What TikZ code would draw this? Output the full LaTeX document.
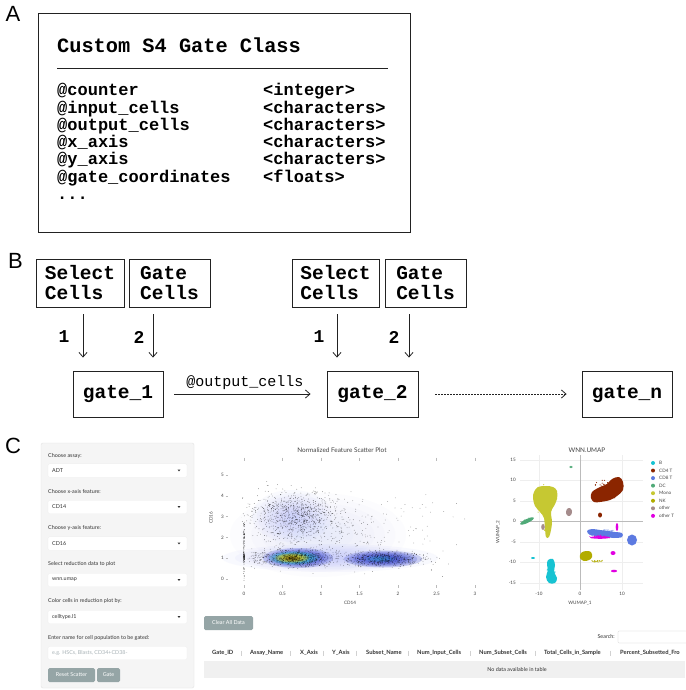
\documentclass[tikz,border=0pt]{standalone}
\usepackage{fontspec}
\usetikzlibrary{arrows.meta}
\newfontfamily\monof{Liberation Mono}
\newfontfamily\latof{Lato}
\newfontfamily\labf{Liberation Sans}
\newcommand\fntLab{\labf\fontsize{22}{24}\selectfont}
\newcommand\fntTitle{\monof\bfseries\fontsize{20.3}{24}\selectfont}
\newcommand\fntRow{\monof\bfseries\fontsize{17}{20}\selectfont}
\newcommand\fntBox{\monof\bfseries\fontsize{19.5}{20}\selectfont}
\newcommand\fntEdge{\monof\fontsize{15}{18}\selectfont}
\newcommand\fntUi{\latof\fontsize{5.4}{6.5}\selectfont}
\newcommand\fntHead{\latof\bfseries\fontsize{5.8}{7}\selectfont}
\newcommand\fntTick{\latof\fontsize{4.6}{5.5}\selectfont}
\newcommand\fntPlotT{\latof\fontsize{6.4}{7.5}\selectfont}
\definecolor{framec}{HTML}{222222}
\definecolor{panelbg}{HTML}{F5F5F5}
\definecolor{panelbd}{HTML}{E3E3E3}
\definecolor{uitext}{HTML}{333333}
\definecolor{phc}{HTML}{A8B2B6}
\definecolor{btnc}{HTML}{95A5A6}
\definecolor{plotc}{HTML}{444444}
\definecolor{gridc}{HTML}{EEEEEE}
\definecolor{zeroc}{HTML}{BBBBBB}
\definecolor{hazec}{RGB}{150,160,250}
\definecolor{coreb}{RGB}{35,50,200}
\definecolor{corec}{RGB}{60,200,210}
\definecolor{corey}{RGB}{215,195,30}
\definecolor{coreo}{RGB}{110,90,20}
\definecolor{cB}{RGB}{23,195,210}
\definecolor{cCDf}{RGB}{139,37,0}
\definecolor{cCDe}{RGB}{92,122,225}
\definecolor{cDC}{RGB}{80,170,120}
\definecolor{cMono}{RGB}{198,200,50}
\definecolor{cNK}{RGB}{178,172,0}
\definecolor{cOther}{RGB}{165,140,140}
\definecolor{cOtherT}{RGB}{225,0,225}
\definecolor{rowc}{HTML}{F0F0F0}
\newcommand\dotcloud[7]{%
  \foreach \k in {1,...,#5}{%
    \pgfmathsetmacro\dcx{#1+#3*(rand+rand+rand)}%
    \pgfmathsetmacro\dcy{#2+#4*(rand+rand+rand)}%
    \fill[#6] (\dcx,\dcy) circle[radius=#7pt];}}
\newcommand\softblob[6]{%
  \foreach \s in {1.0,0.88,0.76,0.64,0.52,0.4,0.28,0.16}{%
    \fill[#5, opacity=#6] (#1,#2) ellipse[x radius={#3*\s}, y radius={#4*\s}];}}
\begin{document}
\begin{tikzpicture}[x=1pt,y=-1pt,
  frame/.style={draw=framec, line width=0.9pt},
  bbox/.style={frame, font=\fntBox, align=left, inner sep=0pt},
  rowl/.style={anchor=base west, font=\fntRow, inner sep=0pt},
  numl/.style={font=\monof\bfseries\fontsize{18}{20}\selectfont, inner sep=0pt},
  arr/.style={line width=0.8pt, draw=framec, -{Straight Barb[length=4.5pt,width=8pt]}},
  dotarr/.style={line width=0.8pt, draw=framec, dash pattern=on 1.3pt off 1.7pt, -{Straight Barb[length=4.5pt,width=8pt]}},
  lbl/.style={anchor=west, font=\fntUi, text=uitext, inner sep=0pt},
  selbox/.style={fill=white, draw=white!93!black, line width=0.2pt, rounded corners=1.5pt, minimum width=139pt, minimum height=13.5pt, inner sep=0pt},
  btn/.style={fill=btnc, text=white, rounded corners=1.5pt, font=\fntUi, inner sep=0pt, minimum height=14pt},
  tick/.style={font=\fntTick, text=plotc, inner sep=0pt},
  head/.style={anchor=west, font=\fntHead, text=uitext, inner sep=0pt},
  legl/.style={anchor=west, font=\fntTick, text=plotc, inner sep=0pt}]
\useasboundingbox[fill=white] (0,0) rectangle (685,690);
\pgfmathsetseed{7}
% ---------------- Panel A
\node[font=\fntLab, inner sep=0pt] (labA) at (13,14) {A};
\node[frame, minimum width=372pt, minimum height=219pt, inner sep=0pt, anchor=north west] (boxA) at (38,13) {};
\node[anchor=base west, font=\fntTitle, inner sep=0pt] (titleA) at (57,53) {Custom S4 Gate Class};
\draw[line width=1pt, framec] (57,69) -- (388,69);
\node[rowl] (r1) at (57,96) {@counter};
\node[rowl] (r2) at (57,113.2) {@input\_cells};
\node[rowl] (r3) at (57,130.4) {@output\_cells};
\node[rowl] (r4) at (57,147.6) {@x\_axis};
\node[rowl] (r5) at (57,164.8) {@y\_axis};
\node[rowl] (r6) at (57,182) {@gate\_coordinates};
\node[rowl] (r7) at (57,199) {...};
\node[rowl] (t1) at (263,96) {<integer>};
\node[rowl] (t2) at (263,113.2) {<characters>};
\node[rowl] (t3) at (263,130.4) {<characters>};
\node[rowl] (t4) at (263,147.6) {<characters>};
\node[rowl] (t5) at (263,164.8) {<characters>};
\node[rowl] (t6) at (263,182) {<floats>};
% ---------------- Panel B
\node[font=\fntLab, inner sep=0pt] (labB) at (15.5,261) {B};
\node[bbox, minimum width=88pt, minimum height=48pt] (s1) at (80,283) {Select\\Cells};
\node[bbox, minimum width=81pt, minimum height=48pt] (c1) at (169.5,283) {Gate\\Cells};
\node[bbox, minimum width=87pt, minimum height=48pt] (s2) at (335.5,283) {Select\\Cells};
\node[bbox, minimum width=81pt, minimum height=48pt] (c2) at (425.5,283) {Gate\\Cells};
\node[bbox, minimum width=90pt, minimum height=46pt] (g1) at (118,394) {gate\_1};
\node[bbox, minimum width=91pt, minimum height=46pt] (g2) at (372.5,394) {gate\_2};
\node[bbox, minimum width=90pt, minimum height=46pt] (gn) at (627,394) {gate\_n};
\draw[arr] ([xshift=3pt,yshift=-7pt]s1.south) -- ([xshift=-35pt,yshift=13pt]g1.north);
\draw[arr] ([xshift=-16.5pt,yshift=-7pt]c1.south) -- ([xshift=35pt,yshift=13pt]g1.north);
\draw[arr] ([xshift=1.5pt,yshift=-7pt]s2.south) -- ([xshift=-35.5pt,yshift=13pt]g2.north);
\draw[arr] ([xshift=-16.5pt,yshift=-7pt]c2.south) -- ([xshift=36.5pt,yshift=13pt]g2.north);
\node[numl] (n1) at (64,337) {1};
\node[numl] (n2) at (139,337) {2};
\node[numl] (n3) at (319,337) {1};
\node[numl] (n4) at (394,337) {2};
\draw[arr, shorten <=11pt, shorten >=16pt] (g1.east) -- (g2.west) node[pos=0.5, above=4pt, font=\fntEdge, inner sep=0pt] (oc) {@output\_cells};
\draw[dotarr, shorten <=17pt, shorten >=15pt] (g2.east) -- (gn.west);
% ---------------- Panel C
\node[font=\fntLab, inner sep=0pt] (labC) at (13,446) {C};
\draw[fill=panelbg, draw=panelbd, line width=0.4pt, rounded corners=2pt] (41,443) rectangle (194,688);
\newcommand\caret[1]{\fill[uitext] (177.6,#1-0.9) -- (180.4,#1-0.9) -- (179,#1+0.9) -- cycle;}
\node[lbl] (ql1) at (48,456) {Choose assay:};
\node[selbox] (sb1) at (117.5,470.5) {};
\node[lbl] (v1) at (52,470.5) {ADT}; \caret{470.5}
\node[lbl] (ql2) at (48,492) {Choose x-axis feature:};
\node[selbox] (sb2) at (117.5,507) {};
\node[lbl] (v2) at (52,507) {CD14}; \caret{507}
\node[lbl] (ql3) at (48,528) {Choose y-axis feature:};
\node[selbox] (sb3) at (117.5,543.5) {};
\node[lbl] (v3) at (52,543.5) {CD16}; \caret{543.5}
\node[lbl] (ql4) at (48,564) {Select reduction data to plot};
\node[selbox] (sb4) at (117.5,580) {};
\node[lbl] (v4) at (52,580) {wnn.umap}; \caret{580}
\node[lbl] (ql5) at (48,601) {Color cells in reduction plot by:};
\node[selbox] (sb5) at (117.5,617) {};
\node[lbl] (v5) at (52,617) {celltype.l1}; \caret{617}
\node[lbl] (ql6) at (48,638) {Enter name for cell population to be gated:};
\node[selbox] (sb6) at (117.5,653) {};
\node[lbl, text=phc] (v6) at (52,653) {e.g. HSCs, Blasts, CD34+CD38-};
\node[btn, minimum width=47pt] (bres) at (71.5,675) {Reset Scatter};
\node[btn, minimum width=23pt] (bgate) at (108.5,675) {Gate};
% ---------------- Scatter plot
\node[font=\fntPlotT, text=plotc, inner sep=0pt] (stitle) at (342,450) {Normalized Feature Scatter Plot};
\softblob{318}{535}{88}{42}{hazec}{0.025}
\softblob{292}{516}{40}{26}{hazec}{0.05}
\softblob{330}{558}{108}{14}{hazec}{0.06}
\softblob{298}{558}{35}{10}{coreb}{0.2}
\softblob{383}{559}{39}{8.5}{coreb}{0.2}
\softblob{380}{559}{16}{3.5}{corec}{0.08}
\softblob{294}{558}{25}{6.8}{corec}{0.25}
\softblob{292}{558}{17}{4.6}{corey}{0.3}
\softblob{292}{558.5}{9}{2.6}{coreo}{0.18}
\begin{scope}
\clip (241,452) rectangle (480,584);
\dotcloud{298}{558}{17}{4.2}{650}{black,opacity=.55}{0.38}
\dotcloud{383}{559}{22}{3.8}{500}{black,opacity=.55}{0.38}
\dotcloud{294}{516}{22}{12}{800}{black,opacity=.6}{0.38}
\dotcloud{345}{528}{45}{20}{300}{black,opacity=.5}{0.38}
\dotcloud{244}{545}{0.3}{14}{90}{black,opacity=.6}{0.38}
\dotcloud{244}{558}{0.3}{3}{40}{black,opacity=.6}{0.38}
\dotcloud{258}{558}{4}{4}{60}{black,opacity=.5}{0.38}
\end{scope}
\foreach \v in {0,1,2,3,4,5}{
  \node[tick, anchor=east] (sy\v) at (224,{579-20.8*\v}) {\v};
  \draw[zeroc, line width=0.3pt] (225.5,{579-20.8*\v}) -- (228,{579-20.8*\v});}
\foreach \u/\lab/\nm in {0/0/a,0.5/0.5/b,1/1/c,1.5/1.5/d,2/2/e,2.5/2.5/f,3/3/g}{
  \node[tick] (sx\nm) at ({244+77*\u},594) {\lab};
  \draw[zeroc, line width=0.3pt] ({244+77*\u},457.5) -- ({244+77*\u},461);
  \draw[zeroc, line width=0.3pt] ({244+77*\u},585) -- ({244+77*\u},588);}
\node[tick, rotate=90] (cdy) at (211,518) {CD16};
\node[tick] (cdx) at (350,603) {CD14};
% ---------------- UMAP
\node[font=\fntPlotT, text=plotc, inner sep=0pt] (utitle) at (587,450) {WNN.UMAP};
\foreach \yy in {460,480,501,542,562,583}{\draw[gridc, line width=0.4pt] (520,\yy) -- (643,\yy);}
\foreach \xx in {539,622}{\draw[gridc, line width=0.4pt] (\xx,455) -- (\xx,590);}
\draw[zeroc, line width=0.6pt] (580,455) -- (580,590);
\draw[zeroc, line width=0.6pt] (520,521) -- (643,521);
% Mono
\fill[cMono] plot[smooth cycle, tension=0.6] coordinates {(534,492) (538,487) (546,486) (553,487) (557,491) (557,499) (554,506) (551,512) (552,522) (551,530) (549,537) (546,537) (545,528) (544,518) (540,512) (535,506) (533,498)};
\dotcloud{545}{500}{4.5}{6}{120}{cMono}{0.6}
\dotcloud{547}{525}{1.4}{5}{40}{cMono}{0.55}
% DC
\begin{scope}[rotate around={25:(527,521)}]
\fill[cDC] (527,521) ellipse[x radius=7.5pt, y radius=2pt];
\dotcloud{527}{521}{3}{0.8}{40}{cDC}{0.6}
\end{scope}
\fill[cDC] (571,467) ellipse[x radius=1.8pt, y radius=1.2pt];
% other
\fill[cOther] plot[smooth cycle] coordinates {(567,509) (570,508) (572,511) (571,515) (568,516) (566,513)};
\fill[cOther] (543,527) ellipse[x radius=1.8pt, y radius=3pt];
% CD4 T
\fill[cCDf] plot[smooth cycle, tension=0.6] coordinates {(592,492) (600,487) (607,484) (612,479) (619,477) (623,482) (623,490) (617,496) (610,500) (600,502) (594,502) (591,498)};
\dotcloud{607}{490}{6}{4}{80}{cCDf}{0.6}
\fill[cCDf] (600,515) ellipse[x radius=2pt, y radius=2.5pt];
% CD8 T
\fill[cCDe] plot[smooth cycle, tension=0.6] coordinates {(587,531) (592,529) (600,530) (608,531) (615,532) (622,533) (622,537) (614,538) (606,537) (598,536) (590,535)};
\dotcloud{604}{533}{6}{1.4}{100}{cCDe}{0.6}
\fill[cCDe] (632,540) ellipse[x radius=5pt, y radius=5.5pt];
% other T
\fill[cOtherT] (600,537.5) ellipse[x radius=10pt, y radius=1.3pt];
\dotcloud{600}{537}{4}{0.8}{40}{cOtherT}{0.5}
\fill[cOtherT] (617,527) ellipse[x radius=1.3pt, y radius=4pt];
\fill[cOtherT] (613,553) ellipse[x radius=2.5pt, y radius=2pt];
\fill[cOtherT] (614,571) ellipse[x radius=3pt, y radius=1.3pt];
% NK
\fill[cNK] plot[smooth cycle, tension=0.6] coordinates {(581,553) (586,551) (591,552) (592,557) (589,560) (584,561) (580,558)};
\dotcloud{586}{556}{2.2}{1.8}{50}{cNK}{0.6}
\dotcloud{597}{561}{3}{0.6}{25}{cNK}{0.5}
% B
\fill[cB] plot[smooth cycle, tension=0.6] coordinates {(548,560) (553,559) (555,565) (554,572) (557,578) (555,583) (549,583) (546,577) (548,570) (547,565)};
\dotcloud{551}{571}{1.8}{4}{60}{cB}{0.6}
\fill[cB] (533,558) ellipse[x radius=2pt, y radius=0.9pt];
% UMAP ticks
\foreach \yy/\lab/\nm in {460/15/a,480/10/b,501/5/c,521/0/d,542/-5/e,562/-10/f,583/-15/g}{
  \node[tick, anchor=east] (uy\nm) at (516,\yy) {\lab};}
\foreach \xx/\lab/\nm in {539/-10/a,580/0/b,622/10/c}{
  \node[tick] (ux\nm) at (\xx,594) {\lab};}
\node[tick, rotate=90] (uly) at (498,532) {WUMAP\_2};
\node[tick] (ulx) at (580,603) {WUMAP\_1};
% legend
\foreach \i/\cc/\lab in {0/cB/B,1/cCDf/CD4 T,2/cCDe/CD8 T,3/cDC/DC,4/cMono/Mono,5/cNK/NK,6/cOther/other,7/cOtherT/other T}{
  \fill[\cc] (653,{463+7.55*\i}) circle[radius=2pt];
  \node[legl] (lg\i) at (659,{463+7.55*\i}) {\lab};}
% ---------------- Table
\node[btn, minimum width=49pt] (bclear) at (228.5,623) {Clear All Data};
\node[lbl, anchor=east] (srch) at (615,637) {Search:};
\draw[fill=white, draw=black!20, line width=0.3pt, rounded corners=1pt] (618,631) rectangle (688,643);
\foreach \xx/\lab/\nm in {212/Gate\_ID/a,250/Assay\_Name/b,300/X\_Axis/c,332/Y\_Axis/d,366/Subset\_Name/e,417/Num\_Input\_Cells/f,479/Num\_Subset\_Cells/g,544/Total\_Cells\_in\_Sample/h,620/Percent\_Subsetted\_Fro/i}{
  \node[head] (h\nm) at (\xx,653) {\lab};}
\foreach \xx in {241,290,323,356,408,470,535,610}{
  \draw[black!18, line width=0.5pt] (\xx,650.5) -- (\xx,655.5);}
\fill[rowc] (204,661) rectangle (685,678);
\node[lbl, anchor=center] (nodata) at (517,669.5) {No data available in table};
\end{tikzpicture}
\end{document}
